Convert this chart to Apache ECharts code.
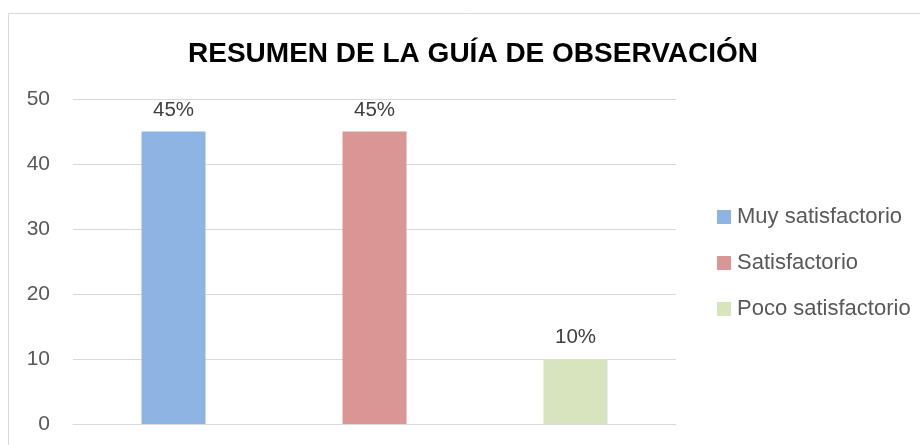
<!DOCTYPE html>
<html>
<head>
<meta charset="utf-8">
<script src="https://cdn.jsdelivr.net/npm/echarts@6/dist/echarts.min.js"></script>
<style>
  html, body { margin: 0; padding: 0; background: #fff; }
  #chart { width: 920px; height: 445px; }
</style>
</head>
<body>
<div id="chart"></div>
<script>
// data
const categories = ['Muy satisfactorio', 'Satisfactorio', 'Poco satisfactorio'];
const values = [45, 45, 10];
const pctLabels = ['45%', '45%', '10%'];
const colors = ['#8EB4E3', '#D99694', '#D7E4BD'];
const yTicks = { min: 0, max: 50, interval: 10 };

const chart = echarts.init(document.getElementById('chart'));

const series = categories.map((name, i) => ({
  name: name,
  type: 'bar',
  stack: 'all',
  barWidth: 64,
  itemStyle: { color: colors[i] },
  data: categories.map((c, j) => (j === i ? values[i] : '-')),
  label: {
    show: true,
    position: 'top',
    distance: 11,
    color: '#404040',
    fontFamily: 'Liberation Sans',
    fontSize: 20.5,
    formatter: () => pctLabels[i]
  }
}));

chart.setOption({
  animation: false,
  backgroundColor: '#fff',
  graphic: [{
    type: 'rect',
    shape: { x: 8.5, y: 13.5, width: 1000, height: 1000 },
    style: { fill: 'none', stroke: '#D9D9D9', lineWidth: 1 },
    silent: true,
    z: -1
  }],
  title: {
    text: 'RESUMEN DE LA GUÍA DE OBSERVACIÓN',
    left: 468,
    textAlign: 'center',
    top: 35,
    textStyle: {
      fontFamily: 'Liberation Sans',
      fontWeight: 'bold',
      fontSize: 28,
      color: '#000'
    }
  },
  legend: {
    orient: 'vertical',
    left: 712,
    top: 201,
    itemWidth: 14,
    itemHeight: 14,
    itemGap: 24,
    icon: 'rect',
    textStyle: {
      fontFamily: 'Liberation Sans',
      fontSize: 22,
      color: '#595959',
      padding: [0, 0, 0, 1]
    },
    data: categories
  },
  grid: { left: 73, right: 244, top: 99, bottom: 21 },
  xAxis: {
    type: 'category',
    data: categories,
    axisLabel: { show: false },
    axisTick: { show: false },
    axisLine: { show: true, lineStyle: { color: '#D9D9D9', width: 1 } }
  },
  yAxis: {
    type: 'value',
    min: yTicks.min,
    max: yTicks.max,
    interval: yTicks.interval,
    axisLine: { show: false },
    axisTick: { show: false },
    axisLabel: {
      color: '#595959',
      fontFamily: 'Liberation Sans',
      fontSize: 21,
      margin: 23
    },
    splitLine: { lineStyle: { color: '#D9D9D9', width: 1 } }
  },
  series: series
});
</script>
</body>
</html>
